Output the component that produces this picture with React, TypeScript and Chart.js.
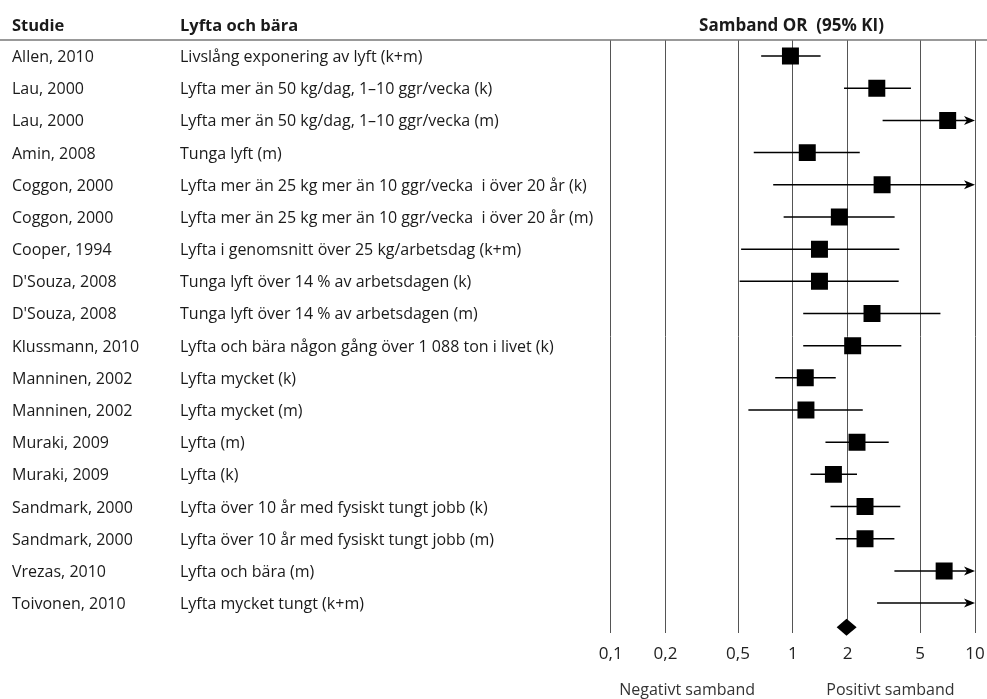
import React, { useEffect, useRef } from 'react';
import { Chart, registerables } from 'chart.js';

Chart.register(...registerables);

const studies = [
  'Allen, 2010', 'Lau, 2000', 'Lau, 2000', 'Amin, 2008', 'Coggon, 2000', 'Coggon, 2000',
  'Cooper, 1994', "D'Souza, 2008", "D'Souza, 2008", 'Klussmann, 2010', 'Manninen, 2002',
  'Manninen, 2002', 'Muraki, 2009', 'Muraki, 2009', 'Sandmark, 2000', 'Sandmark, 2000',
  'Vrezas, 2010', 'Toivonen, 2010',
];
const exposures = [
  'Livslång exponering av lyft (k+m)',
  'Lyfta mer än 50 kg/dag, 1–10 ggr/vecka (k)',
  'Lyfta mer än 50 kg/dag, 1–10 ggr/vecka (m)',
  'Tunga lyft (m)',
  'Lyfta mer än 25 kg mer än 10 ggr/vecka  i över 20 år (k)',
  'Lyfta mer än 25 kg mer än 10 ggr/vecka  i över 20 år (m)',
  'Lyfta i genomsnitt över 25 kg/arbetsdag (k+m)',
  'Tunga lyft över 14 % av arbetsdagen (k)',
  'Tunga lyft över 14 % av arbetsdagen (m)',
  'Lyfta och bära någon gång över 1 088 ton i livet (k)',
  'Lyfta mycket (k)',
  'Lyfta mycket (m)',
  'Lyfta (m)',
  'Lyfta (k)',
  'Lyfta över 10 år med fysiskt tungt jobb (k)',
  'Lyfta över 10 år med fysiskt tungt jobb (m)',
  'Lyfta och bära (m)',
  'Lyfta mycket tungt (k+m)',
];
// odds ratio (null = outside the axis), and 95% CI; upper values > 10 are drawn as arrows
const oddsRatios = [0.97, 2.89, 7.08, 1.2, 3.09, 1.8, 1.4, 1.4, 2.72, 2.13, 1.17, 1.18, 2.25, 1.67, 2.49, 2.49, 6.77, null];
const lowerCI = [0.67, 1.91, 3.11, 0.61, 0.78, 0.89, 0.52, 0.51, 1.14, 1.14, 0.8, 0.57, 1.51, 1.25, 1.61, 1.72, 3.61, 2.9];
const upperCI = [1.42, 4.45, 12, 2.33, 12, 3.62, 3.84, 3.81, 6.46, 3.94, 1.72, 2.42, 3.36, 2.25, 3.89, 3.61, 12, 12];
const pooledOR = 1.97;
const pooledLower = 1.74;
const pooledUpper = 2.24;
const pooledRow = 17.75;
const tickValues = [0.1, 0.2, 0.5, 1, 2, 5, 10];
const headers = ['Studie', 'Lyfta och bära', 'Samband OR  (95% KI)'];
const footers = ['Negativt samband', 'Positivt samband'];

const FONT = "'Open Sans', 'DejaVu Sans', sans-serif";

const forestPlugin = {
  id: 'forest',
  beforeDatasetsDraw(chart: any) {
    const { ctx, scales, chartArea } = chart;
    const x = scales.x;
    const y = scales.y;
    ctx.save();
    ctx.strokeStyle = '#000';
    ctx.fillStyle = '#000';
    ctx.lineWidth = 1.5;
    for (let i = 0; i < studies.length; i++) {
      const yy = y.getPixelForValue(i);
      const lo = Math.max(lowerCI[i], x.min);
      const hi = upperCI[i];
      const over = hi > x.max;
      const x1 = x.getPixelForValue(lo);
      const x2 = over ? chartArea.right : x.getPixelForValue(hi);
      ctx.beginPath();
      ctx.moveTo(x1, yy);
      ctx.lineTo(over ? x2 - 6 : x2, yy);
      ctx.stroke();
      if (over) {
        ctx.beginPath();
        ctx.moveTo(x2, yy);
        ctx.lineTo(x2 - 11, yy - 4.5);
        ctx.lineTo(x2 - 8, yy);
        ctx.lineTo(x2 - 11, yy + 4.5);
        ctx.closePath();
        ctx.fill();
      }
    }
    // pooled estimate diamond
    const py = y.getPixelForValue(pooledRow);
    ctx.beginPath();
    ctx.moveTo(x.getPixelForValue(pooledLower), py);
    ctx.lineTo(x.getPixelForValue(pooledOR), py - 8.5);
    ctx.lineTo(x.getPixelForValue(pooledUpper), py);
    ctx.lineTo(x.getPixelForValue(pooledOR), py + 8.5);
    ctx.closePath();
    ctx.fill();
    ctx.restore();
  },
  afterDraw(chart: any) {
    const { ctx, scales, width } = chart;
    const y = scales.y;
    const x = scales.x;
    ctx.save();
    // header line
    ctx.strokeStyle = '#777';
    ctx.lineWidth = 1.5;
    ctx.beginPath();
    ctx.moveTo(0, 40);
    ctx.lineTo(width, 40);
    ctx.stroke();
    ctx.fillStyle = '#1a1a1a';
    ctx.textBaseline = 'alphabetic';
    ctx.font = `bold 16.5px ${FONT}`;
    ctx.textAlign = 'left';
    ctx.fillText(headers[0], 12, 31);
    ctx.fillText(headers[1], 180, 31);
    ctx.textAlign = 'center';
    ctx.font = `bold 17px ${FONT}`;
    ctx.fillText(headers[2], 791.5, 31);
    ctx.font = `16px ${FONT}`;
    ctx.textAlign = 'left';
    for (let i = 0; i < studies.length; i++) {
      const yy = y.getPixelForValue(i) + 6;
      ctx.fillText(studies[i], 12, yy);
      ctx.fillText(exposures[i], 180, yy);
    }
    ctx.fillStyle = '#333';
    ctx.textAlign = 'center';
    ctx.font = `16px ${FONT}`;
    ctx.fillText(footers[0], (x.getPixelForValue(0.1) + x.getPixelForValue(1)) / 2 - 14.7, 695);
    ctx.fillText(footers[1], (x.getPixelForValue(1) + x.getPixelForValue(10)) / 2 + 6.5, 695);
    ctx.restore();
  },
};

export default function App() {
  const ref = useRef<HTMLCanvasElement | null>(null);
  useEffect(() => {
    if (!ref.current) return;
    const points = oddsRatios
      .map((v, i) => (v == null ? null : { x: v, y: i }))
      .filter((p) => p !== null);
    const chart = new Chart(ref.current, {
      type: 'scatter',
      data: {
        datasets: [
          {
            data: points as any,
            pointStyle: 'rect',
            pointRadius: 12,
            pointHoverRadius: 12,
            backgroundColor: '#000',
            borderWidth: 0,
          },
        ],
      },
      options: {
        responsive: false,
        animation: false,
        devicePixelRatio: 1,
        layout: { padding: { left: 610.7, right: 10.3, top: 40, bottom: 37 } },
        plugins: { legend: { display: false }, tooltip: { enabled: false } },
        scales: {
          x: {
            type: 'logarithmic',
            min: 0.1,
            max: 10,
            afterBuildTicks: (scale: any) => {
              scale.ticks = tickValues.map((v) => ({ value: v }));
            },
            afterFit: (scale: any) => {
              scale.height = 29;
              scale.paddingLeft = 0;
              scale.paddingRight = 0;
            },
            ticks: {
              padding: 11,
              color: '#222',
              font: { family: FONT, size: 17 },
              autoSkip: false,
              maxRotation: 0,
              callback: (v: any) => String(v).replace('.', ','),
            },
            grid: { color: '#555', lineWidth: 1, drawTicks: false },
            border: { display: false },
          },
          y: {
            type: 'linear',
            min: -0.5,
            max: 17.93,
            reverse: true,
            display: false,
          },
        },
      },
      plugins: [forestPlugin],
    });
    return () => chart.destroy();
  }, []);
  return (
    <div style={{ position: 'absolute', left: 0, top: 0, width: 987, height: 699, background: '#fff' }}>
      <canvas ref={ref} width={987} height={699} style={{ display: 'block', width: 987, height: 699 }} />
    </div>
  );
}
